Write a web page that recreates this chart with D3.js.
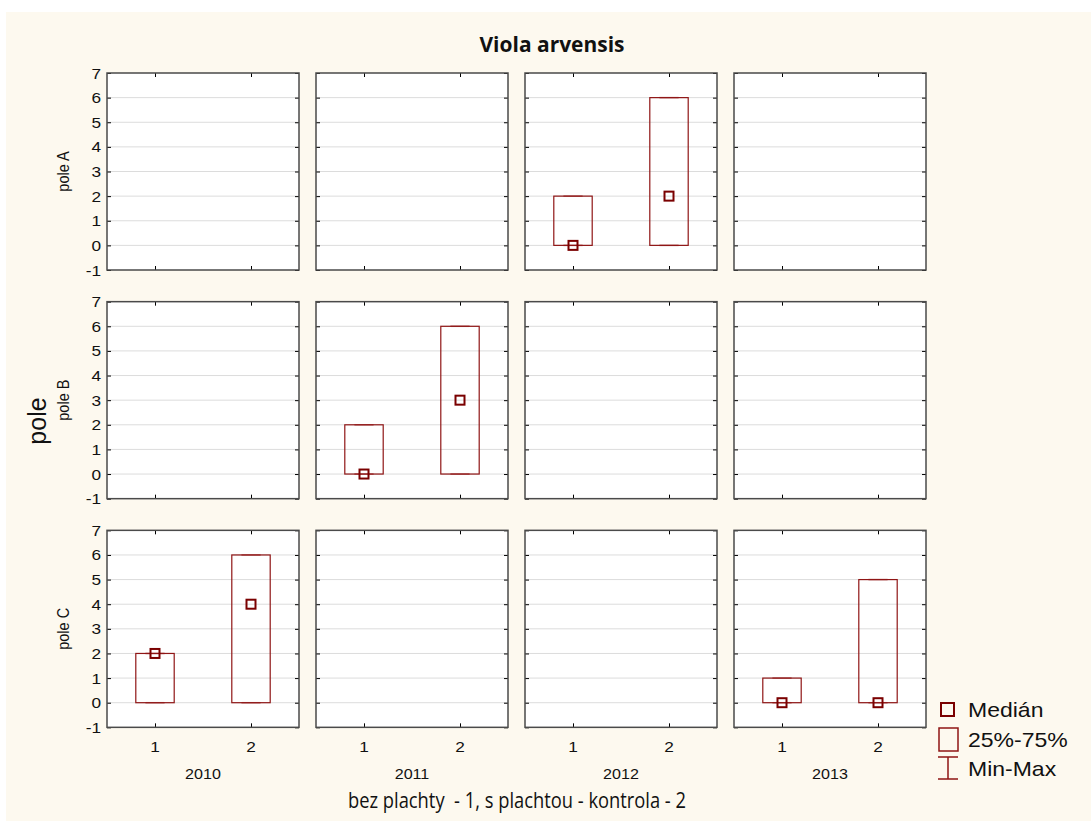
<!DOCTYPE html>
<html>
<head>
<meta charset="utf-8">
<script src="https://cdn.jsdelivr.net/npm/d3@7"></script>
<style>
  body { margin: 0; background: #fff; }
  text { font-family: "Liberation Sans", Arial, sans-serif; fill: #111; }
</style>
</head>
<body>
<div id="chart"></div>
<script>
const years = ['2010', '2011', '2012', '2013'];
const fields = ['pole A', 'pole B', 'pole C'];
const groups = [1, 2];
const yTicks = [-1, 0, 1, 2, 3, 4, 5, 6, 7];

// one entry per drawn box
const boxField  = ['pole A', 'pole A', 'pole B', 'pole B', 'pole C', 'pole C', 'pole C', 'pole C'];
const boxYear   = ['2012', '2012', '2011', '2011', '2010', '2010', '2013', '2013'];
const boxGroup  = [1, 2, 1, 2, 1, 2, 1, 2];
const boxMedian = [0, 2, 0, 3, 2, 4, 0, 0];
const boxQ1     = [0, 0, 0, 0, 0, 0, 0, 0];
const boxQ3     = [2, 6, 2, 6, 2, 6, 1, 5];
const boxMin    = [0, 0, 0, 0, 0, 0, 0, 0];
const boxMax    = [2, 6, 2, 6, 2, 6, 1, 5];

const legendItems = ['Medián', '25%-75%', 'Min-Max'];

const W = 1091, H = 827;
const panelW = 192, panelH = 197;
const red = '#8f1515';
const SX = 1.15; // the original picture is a bit wider than tall

const svg = d3.select('#chart').append('svg')
  .attr('width', W).attr('height', H);

svg.append('rect').attr('x', 6).attr('y', 12)
  .attr('width', W - 6).attr('height', 809)
  .attr('fill', '#fdf9ef');

// text stretched horizontally around its anchor
function label(parent, x, y, txt, size, anchor) {
  return parent.append('text')
    .attr('transform', `translate(${x},${y}) scale(${SX},1)`)
    .attr('text-anchor', anchor || 'start')
    .attr('font-size', size)
    .text(txt);
}

const col = d3.scaleBand().domain(years).range([107, 943]).paddingInner(0);
const row = d3.scaleBand().domain(fields).range([73, 759]).paddingInner(0);

const x = d3.scaleLinear().domain([0.5, 2.5]).range([0, panelW]);
const y = d3.scaleLinear().domain([-1, 7]).range([panelH, 0]);

const boxes = boxField.map((f, i) => ({
  field: f, year: boxYear[i], group: boxGroup[i],
  med: boxMedian[i], q1: boxQ1[i], q3: boxQ3[i], min: boxMin[i], max: boxMax[i]
}));

fields.forEach((f, r) => {
  years.forEach((yr, c) => {
    const g = svg.append('g')
      .attr('transform', `translate(${col(yr)},${row(f)})`);

    g.append('rect').attr('width', panelW).attr('height', panelH).attr('fill', '#fff');

    // grid
    g.selectAll('line.grid').data(yTicks.slice(1, -1)).join('line')
      .attr('x1', 0).attr('x2', panelW)
      .attr('y1', d => y(d)).attr('y2', d => y(d))
      .attr('stroke', '#dcdcdc').attr('stroke-width', 1);

    // inside ticks on all sides
    g.append('g').call(d3.axisRight(y).tickValues(yTicks).tickSize(4).tickFormat(''))
      .call(a => a.select('.domain').remove());
    g.append('g').attr('transform', `translate(${panelW},0)`)
      .call(d3.axisLeft(y).tickValues(yTicks).tickSize(4).tickFormat(''))
      .call(a => a.select('.domain').remove());
    g.append('g').call(d3.axisBottom(x).tickValues(groups).tickSize(4).tickFormat(''))
      .call(a => a.select('.domain').remove());
    g.append('g').attr('transform', `translate(0,${panelH})`)
      .call(d3.axisTop(x).tickValues(groups).tickSize(4).tickFormat(''))
      .call(a => a.select('.domain').remove());

    if (c === 0) {
      yTicks.forEach(t => label(g, -6, y(t) + 5.5, t, 15, 'end'));
      g.append('text')
        .attr('transform', `translate(-38,${panelH / 2}) rotate(-90) scale(1,${SX})`)
        .attr('text-anchor', 'middle').attr('font-size', 14.5)
        .text(f);
    }
    if (r === fields.length - 1) {
      groups.forEach(v => label(g, x(v), panelH + 25, v, 15, 'middle'));
      label(g, panelW / 2, panelH + 52, yr, 14, 'middle');
    }

    // boxes
    const bw = 0.2, cw = 0.1;
    boxes.filter(b => b.field === f && b.year === yr).forEach(b => {
      [[b.q3, b.max], [b.q1, b.min]].forEach(([a, z]) => {
        g.append('line')
          .attr('x1', x(b.group)).attr('x2', x(b.group))
          .attr('y1', y(a)).attr('y2', y(z))
          .attr('stroke', red).attr('stroke-width', 1.2);
      });
      [b.min, b.max].forEach(v => {
        g.append('line')
          .attr('x1', x(b.group - cw)).attr('x2', x(b.group + cw))
          .attr('y1', y(v)).attr('y2', y(v))
          .attr('stroke', '#b56060').attr('stroke-width', 1.5);
      });
      g.append('rect')
        .attr('x', x(b.group - bw)).attr('y', y(b.q3))
        .attr('width', x(b.group + bw) - x(b.group - bw))
        .attr('height', y(b.q1) - y(b.q3))
        .attr('fill', 'none').attr('stroke', red).attr('stroke-width', 1.2);
      g.append('rect')
        .attr('x', x(b.group) - 4.5).attr('y', y(b.med) - 4.5)
        .attr('width', 9).attr('height', 9)
        .attr('fill', 'none').attr('stroke', '#7a0000').attr('stroke-width', 2);
    });

    // frame
    g.append('rect').attr('width', panelW).attr('height', panelH)
      .attr('fill', 'none').attr('stroke', '#4a4a4a').attr('stroke-width', 1.5);
  });
});

// titles
svg.append('text').attr('x', 552).attr('y', 52)
  .attr('text-anchor', 'middle')
  .style('font-family', '"Open Sans", sans-serif')
  .attr('font-weight', 'bold').attr('font-size', 21)
  .attr('textLength', 145).attr('lengthAdjust', 'spacingAndGlyphs')
  .text('Viola arvensis');

svg.append('text').attr('x', 517).attr('y', 808)
  .attr('text-anchor', 'middle')
  .style('font-family', '"Open Sans", sans-serif')
  .attr('font-size', 21)
  .attr('xml:space', 'preserve')
  .attr('textLength', 338).attr('lengthAdjust', 'spacingAndGlyphs')
  .text('bez plachty  - 1, s plachtou - kontrola - 2');

svg.append('text')
  .attr('transform', 'translate(46,421) rotate(-90)')
  .attr('text-anchor', 'middle').attr('font-size', 25)
  .text('pole');

// legend
const lg = svg.append('g');
lg.append('rect').attr('x', 941).attr('y', 703).attr('width', 13).attr('height', 13)
  .attr('fill', 'none').attr('stroke', '#7a0000').attr('stroke-width', 2);
lg.append('rect').attr('x', 939).attr('y', 728).attr('width', 19).attr('height', 23)
  .attr('fill', 'none').attr('stroke', red).attr('stroke-width', 1.5);
lg.append('path').attr('d', 'M938,757H958M948,757V779M938,779H958')
  .attr('fill', 'none').attr('stroke', red).attr('stroke-width', 1.5);
legendItems.forEach((d, i) => label(lg, 968, 717 + i * 29.5, d, 20));
</script>
</body>
</html>
